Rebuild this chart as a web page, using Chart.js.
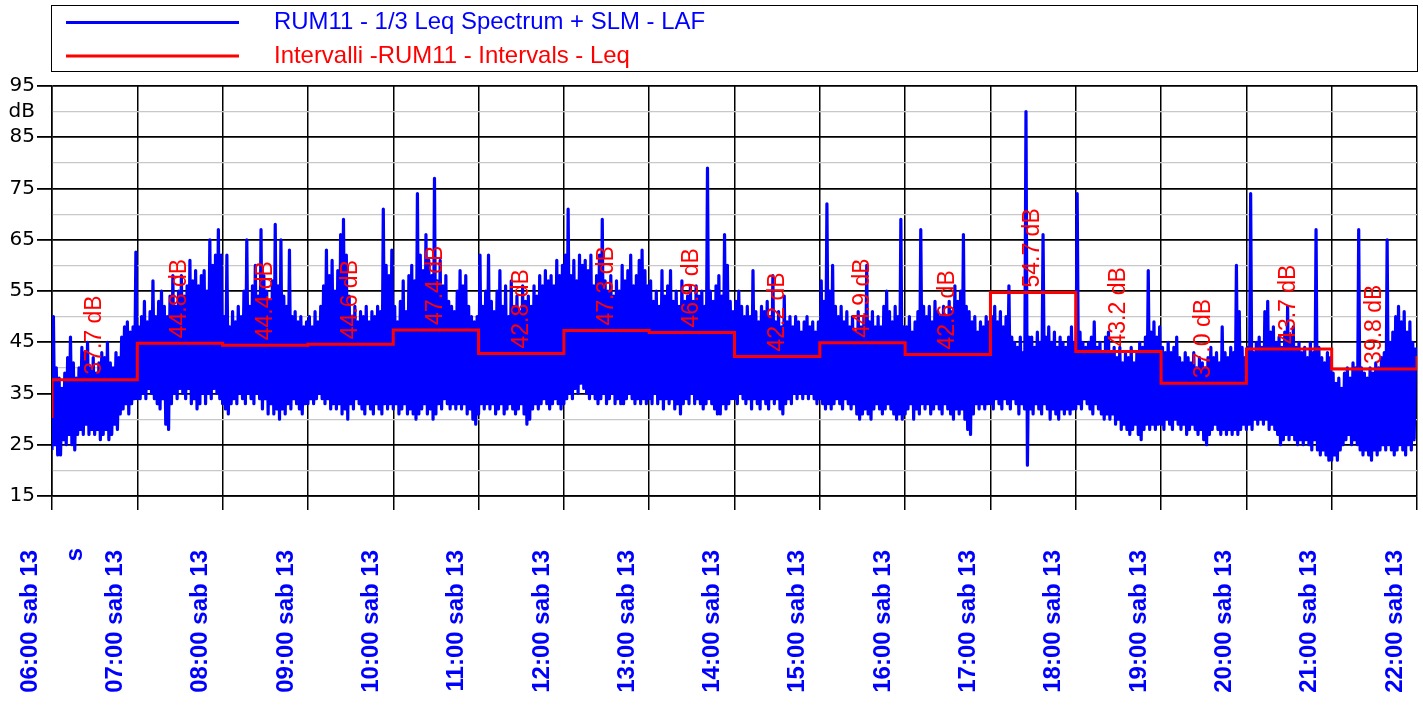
<!DOCTYPE html>
<html>
<head>
<meta charset="utf-8">
<title>RUM11 - LAF / Leq</title>
<script src="https://cdn.jsdelivr.net/npm/chart.js@4.4.1/dist/chart.umd.min.js"></script>
<style>
  html, body { margin: 0; padding: 0; background: #fff; }
  canvas { display: block; }
</style>
</head>
<body>
<canvas id="chart" width="1423" height="713"></canvas>
<script>
// asse x: minuti dalle 06:00, una tacca ogni ora
const tickLabels = [
  '06:00 sab 13', '07:00 sab 13', '08:00 sab 13', '09:00 sab 13', '10:00 sab 13',
  '11:00 sab 13', '12:00 sab 13', '13:00 sab 13', '14:00 sab 13', '15:00 sab 13',
  '16:00 sab 13', '17:00 sab 13', '18:00 sab 13', '19:00 sab 13', '20:00 sab 13',
  '21:00 sab 13', '22:00 sab 13'
];

// intervalli orari - Leq
const intervalStart = [0, 60, 120, 180, 240, 300, 360, 420, 480, 540, 600, 660, 720, 780, 840, 900];
const intervalLeq = [37.7, 44.8, 44.4, 44.6, 47.4, 42.8, 47.3, 46.9, 42.2, 44.9, 42.6, 54.7, 43.2, 37.0, 43.7, 39.8];
const leqBefore = 30.2;  // livello prima delle 06:00
const leqAfter = 42.3;   // livello dell'intervallo 22:00

// LAF: minimo e massimo ogni 2 minuti, una riga per ora
const lafLow = [
  24,25,23,23,26,25,27,25,24,27,28,27,29,27,28,27,28,26,27,28,26,27,29,28,31,32,33,31,33,34,
  34,34,35,34,36,35,34,33,32,34,29,28,33,35,34,36,35,34,36,33,34,32,33,35,33,35,34,36,35,34,
  33,32,31,33,34,33,35,34,33,35,34,33,35,34,32,34,31,33,31,32,30,32,31,33,32,34,33,32,31,33,
  33,34,33,34,35,34,33,34,32,33,32,33,31,32,30,33,32,34,33,32,31,33,32,31,33,32,31,33,32,33,
  32,33,31,32,33,31,32,31,30,31,32,33,31,32,30,31,33,32,34,33,32,33,32,33,32,33,31,32,30,29,
  31,33,32,33,32,33,31,32,33,31,32,33,32,31,32,33,31,29,30,32,33,32,33,34,33,32,33,34,33,32,
  33,34,35,34,36,35,37,36,35,34,35,34,33,34,35,33,34,35,33,34,33,33,34,35,34,33,34,33,34,33,
  34,33,35,33,34,32,34,33,34,32,33,31,33,34,33,35,33,34,33,32,33,34,33,32,31,31,33,32,33,34,
  34,33,35,34,33,34,32,34,33,32,34,33,32,34,33,34,32,31,33,34,33,35,34,35,34,35,34,35,34,33,
  34,33,32,33,32,33,34,33,32,34,33,32,33,31,30,31,32,31,30,32,33,32,31,32,33,32,31,30,31,30,
  31,32,33,30,32,31,33,32,33,31,32,33,32,31,33,32,31,30,32,31,32,30,28,27,31,33,32,33,32,33,
  33,32,34,33,32,34,33,32,34,33,31,33,32,21,32,31,33,32,31,33,32,30,32,31,30,32,31,32,31,32,
  32,33,32,34,33,32,31,33,32,31,30,31,30,31,29,30,28,29,28,27,28,29,27,26,28,29,28,29,28,29,
  29,28,30,29,28,30,29,28,29,27,28,29,28,27,28,26,25,27,28,29,28,27,28,27,28,27,28,27,28,29,
  28,29,28,30,29,30,29,30,28,29,28,27,25,26,27,26,27,26,25,26,25,26,25,24,26,24,23,24,23,22,
  22,23,22,24,25,26,27,25,26,25,24,23,24,23,22,24,23,24,25,24,25,24,23,24,25,24,23,25,24,26
];
const lafHigh = [
  50,40,38,36,39,42,46,41,38,40,44,43,45,40,42,39,41,43,42,45,41,40,43,42,46,48,49,47,48,62.6,
  48,50,53,49,51,57,50,53,55,52,50,54,58,52,55,58,54,56,61,57,59,56,58,59,55,65,60,62,67,62,
  50,62,48,51,49,52,50,55,65,52,56,60,54,67,58,55,53,57,68,56,65,54,52,63,50,51,49,50,48,49,
  50,48,51,49,52,56,63,58,61,55,59,66,69,62,54,50,52,49,51,50,52,49,51,50,52,51,71,60,58,63,
  52,49,53,57,51,58,60,57,74,62,59,66,61,58,77,57,61,56,58,53,52,51,55,59,56,58,52,50,49,50,
  62,52,55,62,53,51,55,59,52,56,50,57,52,54,51,56,53,54,52,56,54,58,56,59,57,58,56,61,58,60,
  62,71,58,61,57,62,60,61,59,62,56,58,62,69,57,55,58,54,57,55,60,57,59,62,56,58,61,63,59,56,
  57,53,55,52,59,54,56,59,53,55,52,57,53,54,56,53,56,54,55,52,79,55,53,56,58,54,66,60,53,51,
  53,55,52,50,52,50,59,51,49,52,51,53,50,58,49,51,48,54,49,50,48,50,49,47,49,50,48,49,47,49,
  57,53,72,55,60,52,50,52,49,51,48,50,47,51,48,50,60,49,51,48,50,48,52,55,51,49,52,50,69,48,
  48,50,47,49,51,67,52,50,52,49,53,51,50,52,50,53,51,56,53,55,66,52,51,49,50,47,49,48,50,49,
  50,52,49,51,48,50,56,46,45,44,46,43,90,46,46,44,47,45,66,46,48,45,47,44,46,45,44,46,48,45,
  74,47,45,44,45,46,49,44,45,43,46,47,43,44,42,44,41,43,42,44,41,43,45,44,46,59,47,49,46,48,
  44,43,45,43,44,46,42,41,43,42,41,43,40,42,41,40,42,44,42,43,41,48,43,42,44,43,60,51,44,42,
  44,74,43,45,46,44,51,53,47,48,45,46,44,47,52,46,48,44,45,43,44,42,45,43,67,44,42,41,43,42,
  39,37,38,36,39,40,38,41,40,67,40,39,38,40,39,41,40,42,43,65,45,47,50,52,49,51,47,49,45,44
];

const lafPoints = [];
lafLow.forEach((lo, i) => {
  lafPoints.push({ x: i * 2, y: lo });
  lafPoints.push({ x: i * 2 + 1, y: lafHigh[i] });
});

const leqPoints = [{ x: 0, y: leqBefore }]
  .concat(intervalStart.map((t, i) => ({ x: t, y: intervalLeq[i] })))
  .concat([{ x: 960, y: leqAfter }]);

const FONT = '"Liberation Sans", Arial, Helvetica, sans-serif';
const isMajor = v => (v - 15) % 10 === 0;

// legenda nel riquadro in alto
const boxLegend = {
  id: 'boxLegend',
  afterDraw(chart) {
    const ctx = chart.ctx;
    ctx.save();
    ctx.strokeStyle = '#000';
    ctx.lineWidth = 1;
    ctx.strokeRect(51.5, 5.5, 1366, 66);

    const rows = [
      { color: '#0000ff', y: 22.5, base: 29, text: chart.data.datasets[1].label },
      { color: '#ff0000', y: 56, base: 62.5, text: chart.data.datasets[0].label }
    ];
    ctx.font = '24px ' + FONT;
    const sx = 431 / ctx.measureText(rows[0].text).width;
    rows.forEach(r => {
      ctx.strokeStyle = r.color;
      ctx.lineWidth = 3;
      ctx.beginPath();
      ctx.moveTo(66, r.y);
      ctx.lineTo(239, r.y);
      ctx.stroke();
      ctx.save();
      ctx.translate(274, r.base);
      ctx.scale(sx, 1);
      ctx.fillStyle = r.color;
      ctx.textAlign = 'left';
      ctx.textBaseline = 'alphabetic';
      ctx.fillText(r.text, 0, 0);
      ctx.restore();
    });
    ctx.restore();
  }
};

// etichette Leq sopra ogni gradino
const leqLabels = {
  id: 'leqLabels',
  afterDatasetsDraw(chart) {
    const { ctx, scales: { x, y } } = chart;
    ctx.save();
    ctx.font = '23px ' + FONT;
    ctx.fillStyle = '#ff0000';
    ctx.textAlign = 'left';
    ctx.textBaseline = 'middle';
    intervalLeq.forEach((v, i) => {
      const xm = x.getPixelForValue(intervalStart[i] + 30);
      const yl = y.getPixelForValue(v);
      ctx.save();
      ctx.translate(xm, yl - 5);
      ctx.rotate(-Math.PI / 2);
      ctx.fillText(v.toFixed(1) + ' dB', 0, 0);
      ctx.restore();
    });
    ctx.restore();
  }
};

// unità dell'asse tempo
const unitLabel = {
  id: 'unitLabel',
  afterDraw(chart) {
    const ctx = chart.ctx;
    ctx.save();
    ctx.font = 'bold 24px ' + FONT;
    ctx.fillStyle = '#0000ff';
    ctx.textAlign = 'right';
    ctx.textBaseline = 'alphabetic';
    ctx.translate(82, 548);
    ctx.rotate(-Math.PI / 2);
    ctx.fillText('s', 0, 0);
    ctx.restore();
  }
};

new Chart(document.getElementById('chart'), {
  type: 'line',
  data: {
    datasets: [
      {
        label: 'Intervalli -RUM11 - Intervals - Leq',
        data: leqPoints,
        borderColor: '#ff0000',
        borderWidth: 3,
        stepped: true,
        pointRadius: 0,
        fill: false
      },
      {
        label: 'RUM11 - 1/3 Leq Spectrum + SLM - LAF',
        data: lafPoints,
        borderColor: '#0000ff',
        borderWidth: 3.2,
        borderJoinStyle: 'round',
        pointRadius: 0,
        tension: 0,
        fill: false
      }
    ]
  },
  options: {
    responsive: false,
    animation: false,
    devicePixelRatio: 1,
    parsing: false,
    layout: { padding: { top: 86, right: 6, bottom: 0, left: 0 } },
    plugins: {
      legend: { display: false },
      tooltip: { enabled: false }
    },
    scales: {
      x: {
        type: 'linear',
        min: 0,
        max: 960,
        afterFit: s => { s.height = 217; s.paddingLeft = 0; s.paddingRight = 0; },
        ticks: {
          stepSize: 60,
          maxTicksLimit: 100,
          autoSkip: false,
          minRotation: 90,
          maxRotation: 90,
          padding: 40,
          labelOffset: -22,
          color: '#0000ff',
          font: { family: FONT, size: 24, weight: 'bold' },
          callback: v => tickLabels[Math.round(v / 60)]
        },
        grid: { color: '#000', lineWidth: 1.5, tickLength: 14, tickColor: '#000' },
        border: { color: '#000', width: 1.5 }
      },
      y: {
        min: 15,
        max: 95,
        afterFit: s => { s.width = 52; },
        ticks: {
          stepSize: 5,
          maxTicksLimit: 100,
          autoSkip: false,
          padding: 2,
          color: '#000',
          font: { family: '"DejaVu Sans", sans-serif', size: 20 },
          callback: v => isMajor(v) ? String(v) : (v === 90 ? 'dB' : '')
        },
        grid: {
          color: c => isMajor(c.tick.value) ? '#000' : '#c8c8c8',
          lineWidth: c => isMajor(c.tick.value) ? 1.8 : 1.2,
          tickLength: 15,
          tickColor: c => isMajor(c.tick.value) ? '#000' : 'rgba(0,0,0,0)'
        },
        border: { color: '#000', width: 1.5 }
      }
    }
  },
  plugins: [boxLegend, leqLabels, unitLabel]
});
</script>
</body>
</html>
